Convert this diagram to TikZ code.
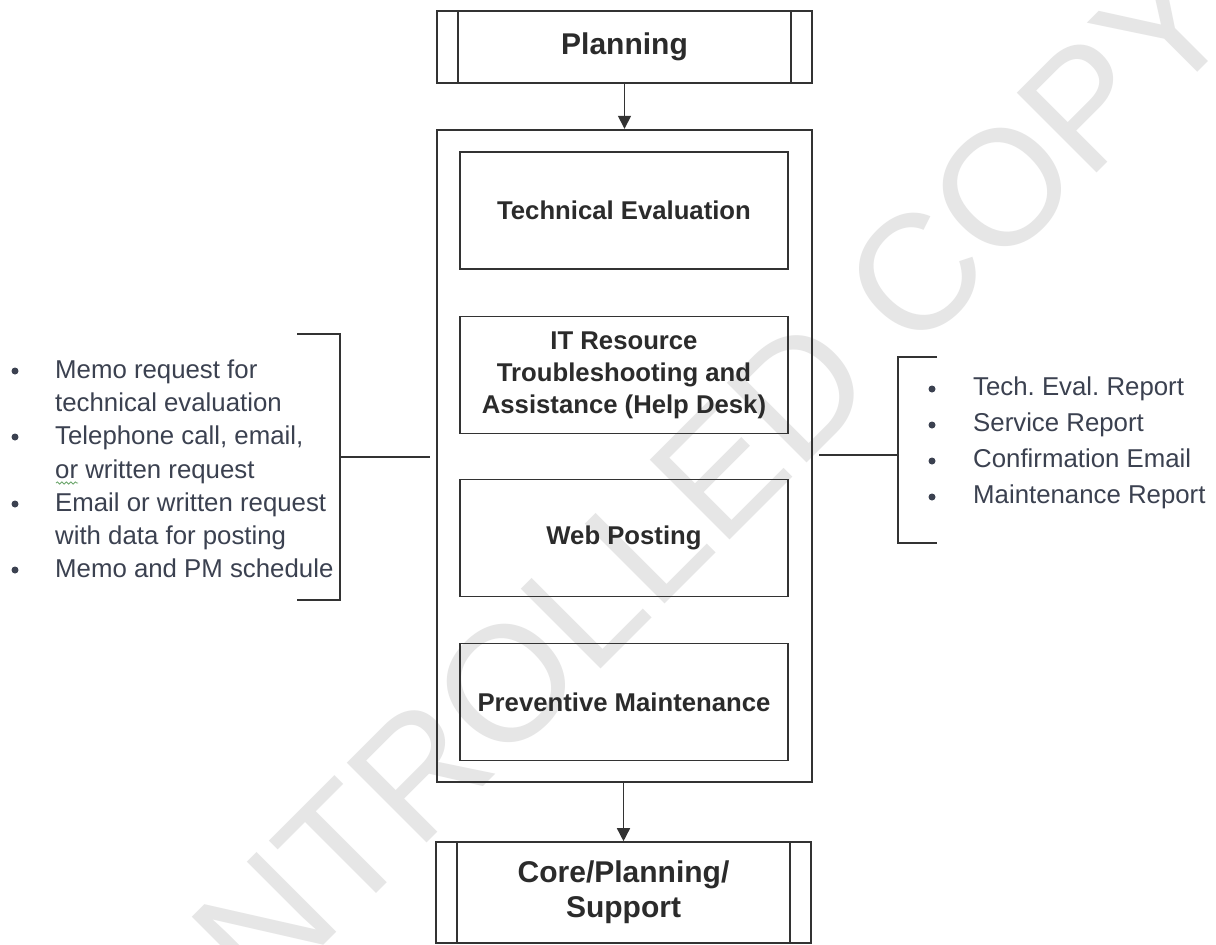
\documentclass[tikz,border=0pt]{standalone}
\usepackage{fontspec}
\setmainfont{Liberation Sans}
\usetikzlibrary{arrows.meta,decorations.pathmorphing}
\definecolor{ink}{HTML}{333333}
\definecolor{boxtext}{HTML}{2B2B2B}
\definecolor{listtext}{HTML}{3B4150}
\definecolor{wmark}{HTML}{E6E6E6}
\definecolor{squig}{HTML}{6AA56A}

\begin{document}
\begin{tikzpicture}[x=1pt,y=-1pt,
  frame/.style={draw=ink,line width=1.6pt,inner sep=0pt,align=center,text=boxtext},
  stage/.style={frame,minimum width=375pt,font=\fontsize{30}{35}\selectfont\bfseries},
  task/.style={frame,minimum width=328pt,minimum height=117pt,font=\fontsize{25.7}{32}\selectfont\bfseries},
  item/.style={anchor=base west,inner sep=0pt,text=listtext,font=\fontsize{25.8}{30}\selectfont},
  dot/.style={circle,fill=listtext,inner sep=0pt,minimum size=7pt},
  link/.style={draw=ink,line width=1.5pt},
  flow/.style={link,-{Triangle[length=13pt,width=13pt]}},
]
\useasboundingbox (0,0) rectangle (1216,945);
\fill[white] (0,0) rectangle (1216,945);
\clip (0,0) rectangle (1216,945);

% diagonal watermark behind everything
\node[rotate=45,text=wmark,inner sep=0pt,font=\fontsize{164}{164}\selectfont] (wm) at (542,648) {UNCONTROLLED COPY};

% process stages
\node[stage,minimum height=72pt] (plan) at (624.5,47) {Planning};
\node[draw=ink,line width=2.4pt,minimum width=375pt,minimum height=652pt,inner sep=0pt] (main) at (624.5,456) {};
\node[task] (tech) at (624,210.5) {Technical Evaluation};
\node[task] (help) at (624,375) {IT Resource\\Troubleshooting and\\Assistance (Help Desk)};
\node[task] (web) at (624,538) {Web Posting};
\node[task] (pm) at (624,702) {Preventive Maintenance};
\node[stage,minimum height=101pt] (core) at (623.5,892.5) {Core/Planning/\\Support};

% predefined-process side bars
\foreach \n in {plan,core} {
  \draw[link] ([xshift=22pt]\n.north west) -- ([xshift=22pt]\n.south west);
  \draw[link] ([xshift=-22pt]\n.north east) -- ([xshift=-22pt]\n.south east);
}

% flow arrows
\draw[flow] (plan.south) -- (main.north);
\draw[flow] (main.south -| core.north) -- (core.north);

% inputs
\node[dot] (lb1) at (15,371) {};
\node[dot] (lb2) at (15,437) {};
\node[dot] (lb3) at (15,504) {};
\node[dot] (lb4) at (15,570) {};
\node[item] (l1) at (55,378) {Memo request for};
\node[item] (l2) at (55,411) {technical evaluation};
\node[item] (l3) at (55,444) {Telephone call, email,};
\node[item] (l4) at (55,478) {or written request};
\node[item] (l5) at (55,511) {Email or written request};
\node[item] (l6) at (55,544) {with data for posting};
\node[item] (l7) at (55,577) {Memo and PM schedule};
\draw[squig,line width=0.8pt,decorate,decoration={snake,amplitude=1.1pt,segment length=4.5pt}]
  ([xshift=1pt,yshift=-5pt]l4.base west) -- ([xshift=23pt,yshift=-5pt]l4.base west);

\coordinate (lt) at (297,334);
\coordinate (lm) at (340,457);
\coordinate (lbm) at (297,600);
\draw[link] (lt) -| (lm) |- (lbm);
\draw[link] (lm) -- ([xshift=-6pt]main.west |- lm);

% outputs
\node[dot] (rb1) at (932,389) {};
\node[dot] (rb2) at (932,425) {};
\node[dot] (rb3) at (932,461) {};
\node[dot] (rb4) at (932,497) {};
\node[item] (r1) at (973,395) {Tech.\ Eval.\ Report};
\node[item] (r2) at (973,431) {Service Report};
\node[item] (r3) at (973,467) {Confirmation Email};
\node[item] (r4) at (973,503) {Maintenance Report};

\coordinate (rt) at (937,357);
\coordinate (rm) at (898,455);
\coordinate (rbm) at (937,543);
\draw[link] (rt) -| (rm) |- (rbm);
\draw[link] ([xshift=6pt]main.east |- rm) -- (rm);
\end{tikzpicture}
\end{document}
